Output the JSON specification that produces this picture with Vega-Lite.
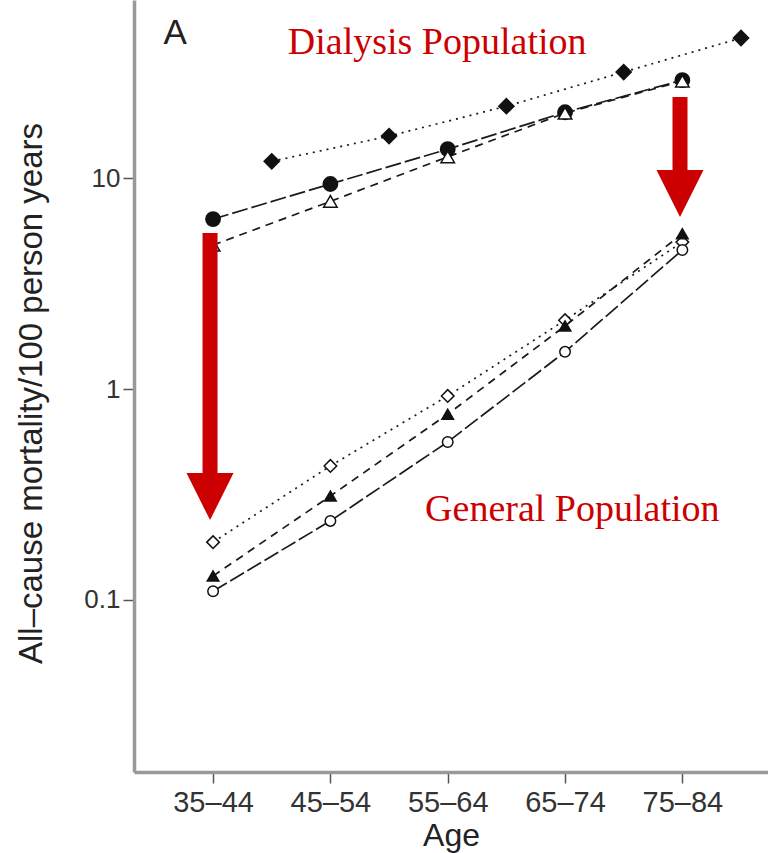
{
  "$schema": "https://vega.github.io/schema/vega-lite/v6.json",
  "width": 634,
  "height": 772,
  "autosize": {"type": "none"},
  "padding": {"left": 134, "top": 0, "right": 0, "bottom": 81},
  "background": "white",
  "config": {
    "view": {"stroke": null},
    "axis": {
      "grid": false,
      "labelFont": "Liberation Sans", "labelColor": "#333333",
      "labelFlush": false, "labelOverlap": false,
      "tickSize": 11, "tickColor": "#555555", "tickWidth": 1.5,
      "domainColor": "#999999", "domainWidth": 3.5,
      "titleFont": "Liberation Sans", "titleFontSize": 32, "titleFontWeight": "normal",
      "titleColor": "#222222"
    },
    "axisX": {"labelFontSize": 29, "labelPadding": 5, "titlePadding": 3},
    "axisY": {"labelFontSize": 26, "labelPadding": 3, "titlePadding": 35, "titleFontSize": 33, "titleY": 393}
  },
  "datasets": {
    "series": [
      {"series": "Dialysis 1", "x": 0.5, "rate": 12.0},
      {"series": "Dialysis 1", "x": 1.5, "rate": 15.8},
      {"series": "Dialysis 1", "x": 2.5, "rate": 21.9},
      {"series": "Dialysis 1", "x": 3.5, "rate": 31.8},
      {"series": "Dialysis 1", "x": 4.5, "rate": 46.1},
      {"series": "Dialysis 2", "x": 0, "rate": 6.39},
      {"series": "Dialysis 2", "x": 1, "rate": 9.37},
      {"series": "Dialysis 2", "x": 2, "rate": 13.7},
      {"series": "Dialysis 2", "x": 3, "rate": 20.5},
      {"series": "Dialysis 2", "x": 4, "rate": 29.1},
      {"series": "Dialysis 3", "x": 0, "rate": 4.81},
      {"series": "Dialysis 3", "x": 1, "rate": 7.75},
      {"series": "Dialysis 3", "x": 2, "rate": 12.6},
      {"series": "Dialysis 3", "x": 3, "rate": 20.3},
      {"series": "Dialysis 3", "x": 4, "rate": 28.8},
      {"series": "General 1", "x": 0, "rate": 0.188},
      {"series": "General 1", "x": 1, "rate": 0.432},
      {"series": "General 1", "x": 2, "rate": 0.927},
      {"series": "General 1", "x": 3, "rate": 2.12},
      {"series": "General 1", "x": 4, "rate": 4.97},
      {"series": "General 2", "x": 0, "rate": 0.130},
      {"series": "General 2", "x": 1, "rate": 0.311},
      {"series": "General 2", "x": 2, "rate": 0.76},
      {"series": "General 2", "x": 3, "rate": 1.99},
      {"series": "General 2", "x": 4, "rate": 5.45},
      {"series": "General 3", "x": 0, "rate": 0.110},
      {"series": "General 3", "x": 1, "rate": 0.237},
      {"series": "General 3", "x": 2, "rate": 0.561},
      {"series": "General 3", "x": 3, "rate": 1.50},
      {"series": "General 3", "x": 4, "rate": 4.56}
    ],
    "arrows": [
      {"x": -0.026, "top": 5.49, "head": 0.309},
      {"x": 3.98, "top": 24.2, "head": 8.45}
    ],
    "notes": [
      {"label": "Dialysis Population", "x": 1.91, "y": 38.7},
      {"label": "General Population", "x": 3.062, "y": 0.2368}
    ],
    "panel": [
      {"label": "A", "x": -0.324, "y": 43.2}
    ]
  },
  "layer": [
    {
      "data": {"name": "series"},
      "mark": {"type": "line", "strokeWidth": 1.7, "color": "#1a1a1a"},
      "encoding": {
        "x": {
          "field": "x", "type": "quantitative", "title": "Age",
          "scale": {"domain": [-0.674, 4.73], "nice": false, "zero": false},
          "axis": {
            "values": [0, 1, 2, 3, 4],
            "labelExpr": "['35–44','45–54','55–64','65–74','75–84'][datum.value]"
          }
        },
        "y": {
          "field": "rate", "type": "quantitative", "title": "All–cause mortality/100 person years",
          "scale": {"type": "log", "domain": [0.0153, 69.8], "nice": false},
          "axis": {"values": [0.1, 1, 10], "format": "~g"}
        },
        "strokeDash": {
          "field": "series", "type": "nominal",
          "scale": {
            "domain": ["Dialysis 1", "Dialysis 2", "Dialysis 3", "General 1", "General 2", "General 3"],
            "range": [[2, 5], [16, 4], [8, 6], [2, 5], [8, 6], [16, 4]]
          },
          "legend": null
        }
      }
    },
    {
      "data": {"name": "series"},
      "mark": {"type": "point", "filled": true, "stroke": "#111111", "strokeWidth": 1.5, "opacity": 1},
      "encoding": {
        "x": {"field": "x", "type": "quantitative", "title": "Age", "scale": {"domain": [-0.674, 4.73], "nice": false, "zero": false}},
        "y": {"field": "rate", "type": "quantitative", "title": "All–cause mortality/100 person years", "scale": {"type": "log", "domain": [0.0153, 69.8], "nice": false}},
        "shape": {
          "field": "series", "type": "nominal",
          "scale": {
            "domain": ["Dialysis 1", "Dialysis 2", "Dialysis 3", "General 1", "General 2", "General 3"],
            "range": ["diamond", "circle", "triangle-up", "diamond", "triangle-up", "circle"]
          },
          "legend": null
        },
        "fill": {
          "field": "series", "type": "nominal",
          "scale": {
            "domain": ["Dialysis 1", "Dialysis 2", "Dialysis 3", "General 1", "General 2", "General 3"],
            "range": ["#111111", "#111111", "#ffffff", "#ffffff", "#111111", "#ffffff"]
          },
          "legend": null
        },
        "size": {
          "field": "series", "type": "ordinal",
          "scale": {
            "domain": ["Dialysis 1", "Dialysis 2", "Dialysis 3", "General 1", "General 2", "General 3"],
            "range": [230, 110, 160, 180, 160, 120]
          },
          "legend": null
        }
      }
    },
    {
      "data": {"name": "arrows"},
      "mark": {"type": "rule", "color": "#CC0000", "strokeWidth": 15, "strokeCap": "butt"},
      "encoding": {
        "x": {"field": "x", "type": "quantitative", "title": "Age", "scale": {"domain": [-0.674, 4.73], "nice": false, "zero": false}},
        "y": {"field": "top", "type": "quantitative", "title": "All–cause mortality/100 person years", "scale": {"type": "log", "domain": [0.0153, 69.8], "nice": false}},
        "y2": {"field": "head"}
      }
    },
    {
      "data": {"name": "arrows"},
      "mark": {"type": "point", "shape": "M-1,-1L1,-1L0,1Z", "size": 2209, "filled": true, "color": "#CC0000", "opacity": 1, "strokeWidth": 0},
      "encoding": {
        "x": {"field": "x", "type": "quantitative", "title": "Age", "scale": {"domain": [-0.674, 4.73], "nice": false, "zero": false}},
        "y": {"field": "head", "type": "quantitative", "title": "All–cause mortality/100 person years", "scale": {"type": "log", "domain": [0.0153, 69.8], "nice": false}}
      }
    },
    {
      "data": {"name": "notes"},
      "mark": {"type": "text", "font": "Liberation Serif", "fontSize": 38, "color": "#CC0000", "align": "center", "baseline": "alphabetic"},
      "encoding": {
        "x": {"field": "x", "type": "quantitative", "title": "Age", "scale": {"domain": [-0.674, 4.73], "nice": false, "zero": false}},
        "y": {"field": "y", "type": "quantitative", "title": "All–cause mortality/100 person years", "scale": {"type": "log", "domain": [0.0153, 69.8], "nice": false}},
        "text": {"field": "label"}
      }
    },
    {
      "data": {"name": "panel"},
      "mark": {"type": "text", "font": "Liberation Sans", "fontSize": 35, "color": "#222222", "align": "center", "baseline": "alphabetic"},
      "encoding": {
        "x": {"field": "x", "type": "quantitative", "title": "Age", "scale": {"domain": [-0.674, 4.73], "nice": false, "zero": false}},
        "y": {"field": "y", "type": "quantitative", "title": "All–cause mortality/100 person years", "scale": {"type": "log", "domain": [0.0153, 69.8], "nice": false}},
        "text": {"field": "label"}
      }
    }
  ]
}
